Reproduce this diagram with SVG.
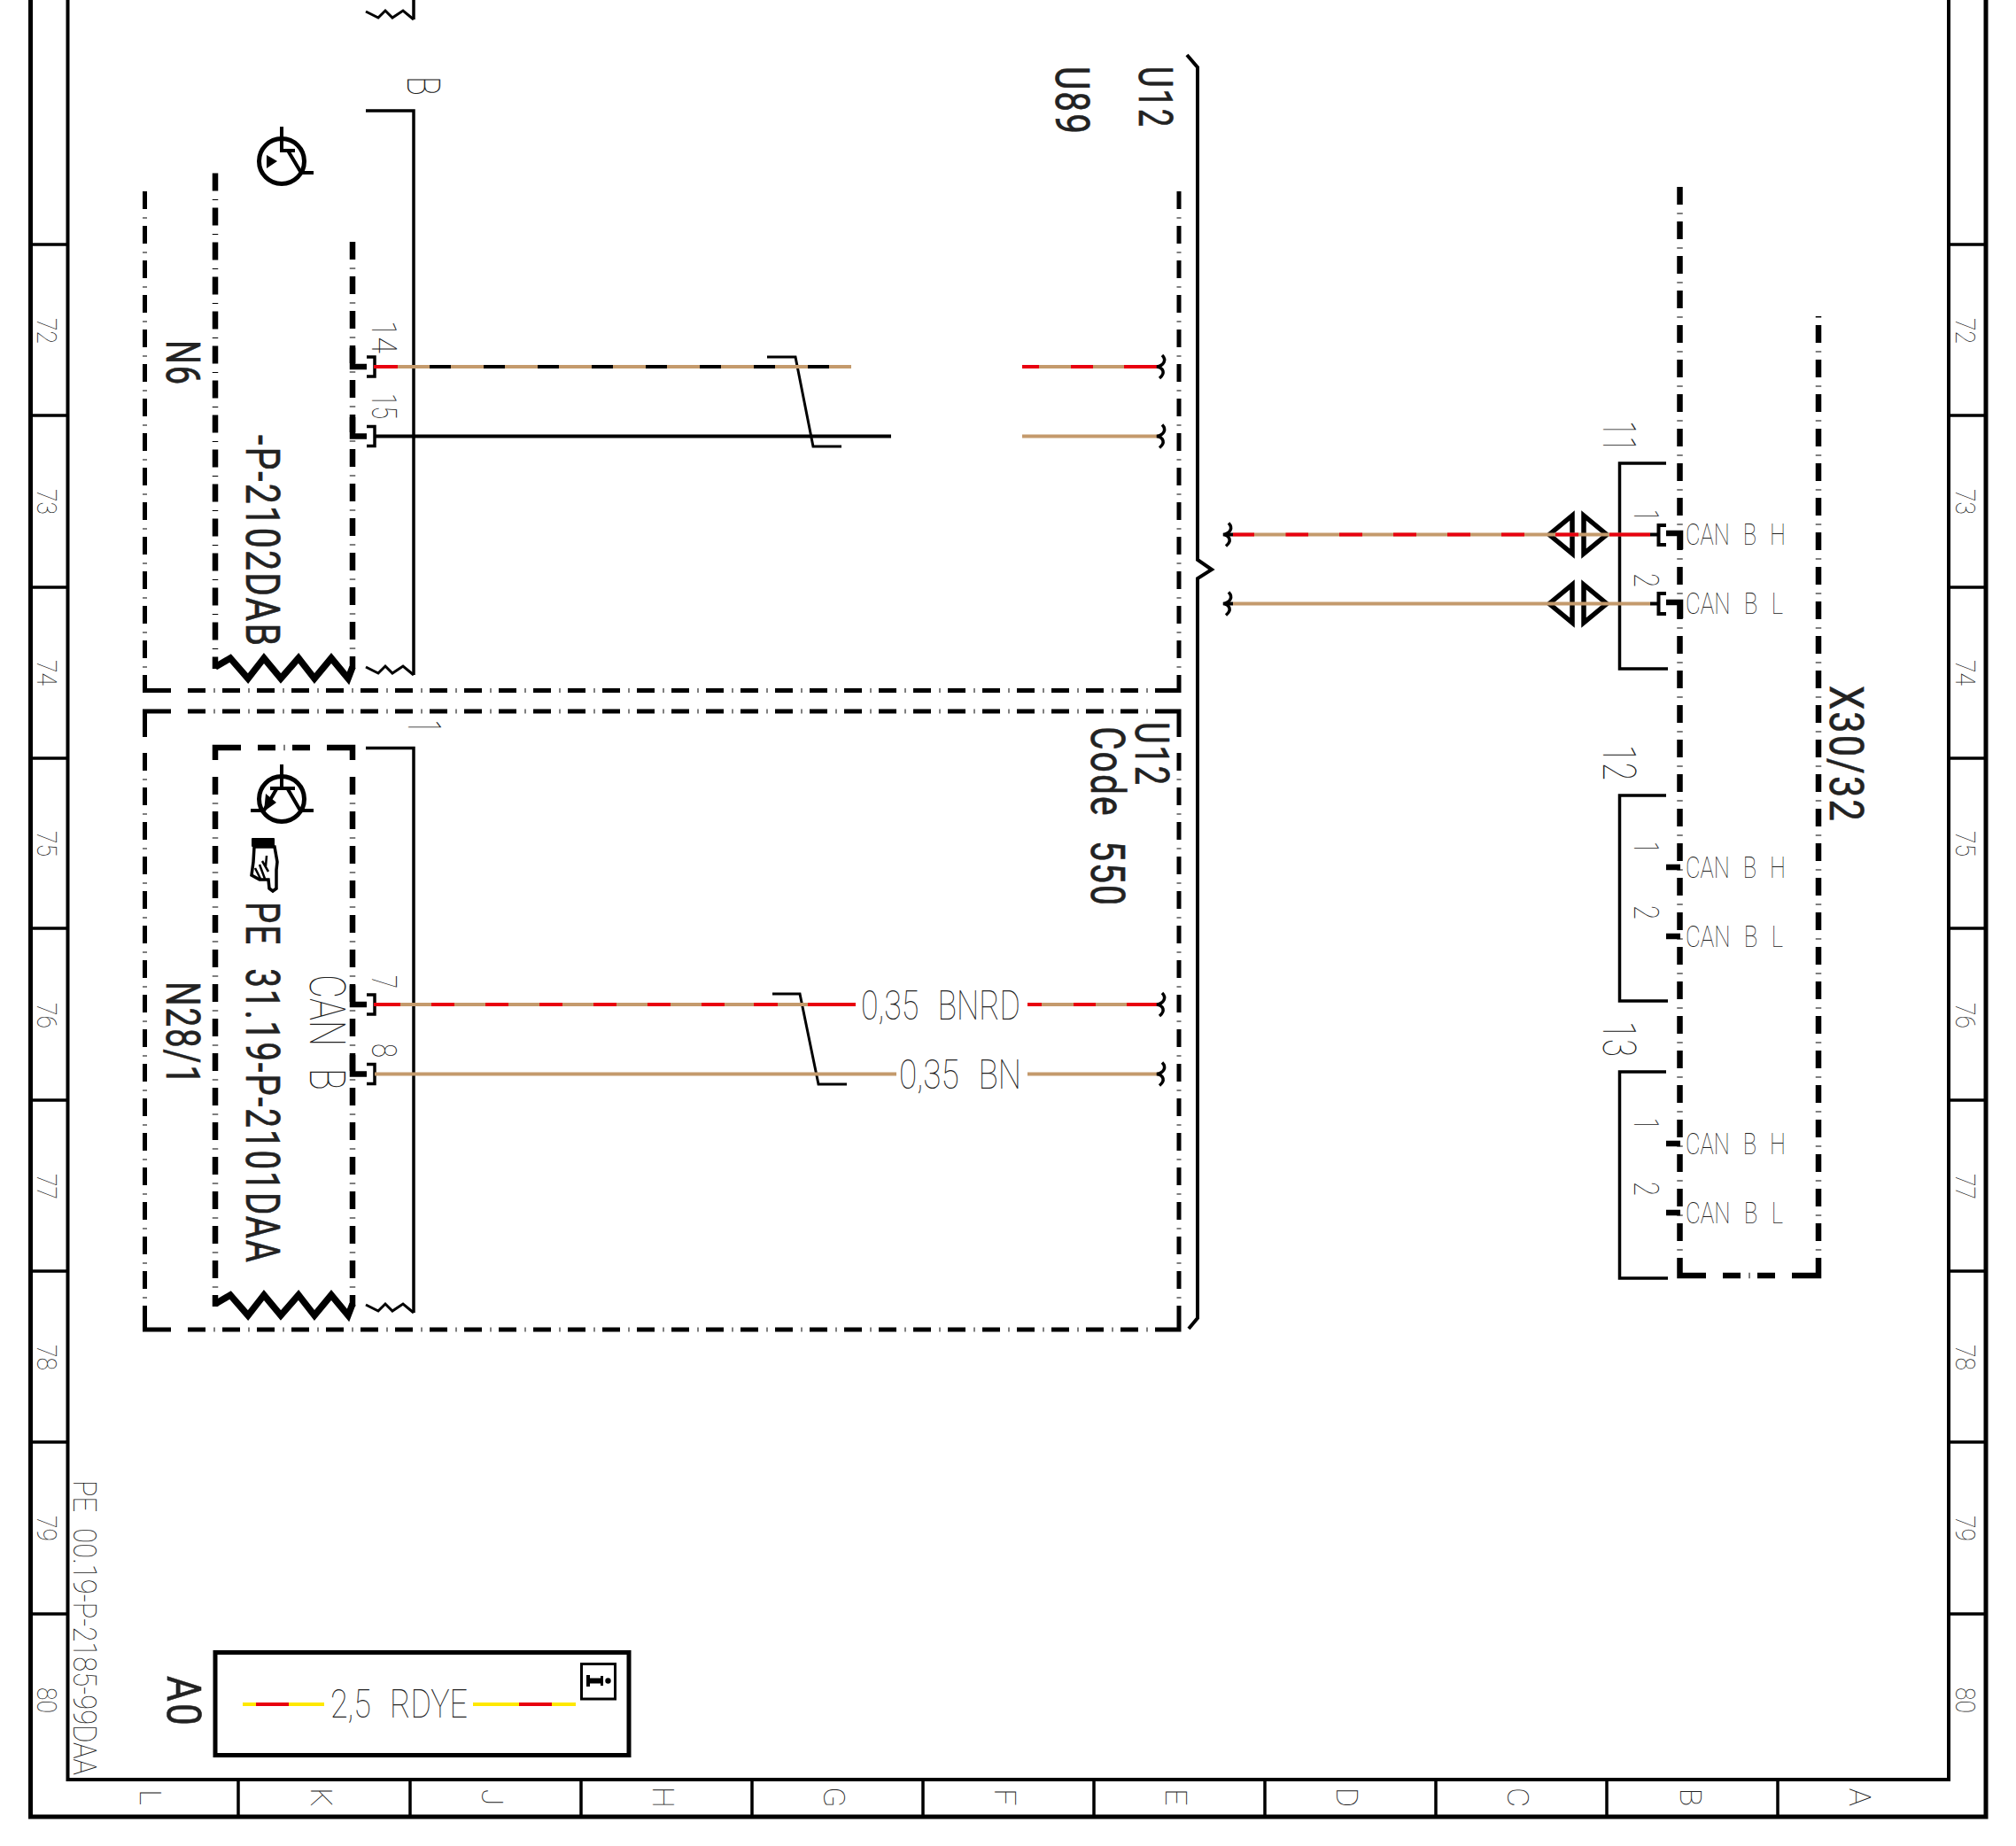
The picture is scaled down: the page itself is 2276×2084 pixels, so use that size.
<svg xmlns="http://www.w3.org/2000/svg" width="2276" height="2084" viewBox="0 0 2276 2084">
<style>
text{font-family:Roboto,"Liberation Sans",sans-serif;word-spacing:.35em}
.t{font-weight:100;fill:#222}
.b{font-weight:400;fill:#222;stroke:#222;stroke-width:.6;letter-spacing:.05em}
.ln{fill:none;stroke:#000;stroke-linejoin:miter}
.f{stroke-width:5}.f2{stroke-width:4}.l{stroke-width:3.5}.m{stroke-width:3}
.d5{fill:none;stroke:#000;stroke-width:5;stroke-dasharray:20 9.5 1 8.5}
.d6{fill:none;stroke:#000;stroke-width:6.5;stroke-dasharray:20 9.5 1 8.5}
.c5{fill:none;stroke:#000;stroke-width:5}
.c6{fill:none;stroke:#000;stroke-width:6.5}
.w{fill:none;stroke-width:4}
.tan{stroke:#c49a6c}.red{stroke:#e8000f}.blk{stroke:#000}.yel{stroke:#ffe800}
</style>
<defs>
<path id="sq" d="M6-13Q10-9 8-5Q6-1 0 0Q6 1 7 5Q8 9 3 13" fill="none" stroke="#000" stroke-width="3.5"/>
<path id="zz" d="M243 753L260 743L280 766L298 743L317 766L337 743L355 766L374 743L393 766L398 753" fill="none" stroke="#000" stroke-width="7.5"/>
<path id="zs" d="M413 753L427 760L435 752L443 760L455 752L467 762" fill="none" stroke="#000" stroke-width="3"/>
<g id="pl">
<path d="M398-21.5V0H414" fill="none" stroke="#000" stroke-width="6.5"/>
<path d="M414-11H423V11H414" fill="none" stroke="#000" stroke-width="3.5"/>
</g>
</defs>
<rect width="2276" height="2084" fill="#fff"/>

<g id="frame">
<path class="ln f" d="M34.5 0V2051H2242V0"/>
<path class="ln f2" d="M76.5 0V2009H2200V0"/>
<path class="ln l" d="M34.5 276H76.5M34.5 469H76.5M34.5 663H76.5M34.5 856H76.5M34.5 1048H76.5M34.5 1242H76.5M34.5 1435H76.5M34.5 1628H76.5M34.5 1822H76.5"/>
<path class="ln l" d="M2200 276H2242M2200 469H2242M2200 663H2242M2200 856H2242M2200 1048H2242M2200 1242H2242M2200 1435H2242M2200 1628H2242M2200 1822H2242"/>
<path class="ln l" d="M269 2009V2051M463 2009V2051M656 2009V2051M849 2009V2051M1042 2009V2051M1235 2009V2051M1428 2009V2051M1621 2009V2051M1814 2009V2051M2007 2009V2051"/>
<g class="t" font-size="32">
<text transform="translate(41.5 359) rotate(90)" textLength="29" lengthAdjust="spacingAndGlyphs">72</text>
<text transform="translate(41.5 552) rotate(90)" textLength="29" lengthAdjust="spacingAndGlyphs">73</text>
<text transform="translate(41.5 745) rotate(90)" textLength="29" lengthAdjust="spacingAndGlyphs">74</text>
<text transform="translate(41.5 938) rotate(90)" textLength="29" lengthAdjust="spacingAndGlyphs">75</text>
<text transform="translate(41.5 1132) rotate(90)" textLength="29" lengthAdjust="spacingAndGlyphs">76</text>
<text transform="translate(41.5 1325) rotate(90)" textLength="29" lengthAdjust="spacingAndGlyphs">77</text>
<text transform="translate(41.5 1518) rotate(90)" textLength="29" lengthAdjust="spacingAndGlyphs">78</text>
<text transform="translate(41.5 1711) rotate(90)" textLength="29" lengthAdjust="spacingAndGlyphs">79</text>
<text transform="translate(41.5 1905) rotate(90)" textLength="29" lengthAdjust="spacingAndGlyphs">80</text>
<text transform="translate(2208 359) rotate(90)" textLength="29" lengthAdjust="spacingAndGlyphs">72</text>
<text transform="translate(2208 552) rotate(90)" textLength="29" lengthAdjust="spacingAndGlyphs">73</text>
<text transform="translate(2208 745) rotate(90)" textLength="29" lengthAdjust="spacingAndGlyphs">74</text>
<text transform="translate(2208 938) rotate(90)" textLength="29" lengthAdjust="spacingAndGlyphs">75</text>
<text transform="translate(2208 1132) rotate(90)" textLength="29" lengthAdjust="spacingAndGlyphs">76</text>
<text transform="translate(2208 1325) rotate(90)" textLength="29" lengthAdjust="spacingAndGlyphs">77</text>
<text transform="translate(2208 1518) rotate(90)" textLength="29" lengthAdjust="spacingAndGlyphs">78</text>
<text transform="translate(2208 1711) rotate(90)" textLength="29" lengthAdjust="spacingAndGlyphs">79</text>
<text transform="translate(2208 1905) rotate(90)" textLength="29" lengthAdjust="spacingAndGlyphs">80</text>
</g>
<g class="t" font-size="34" text-anchor="middle">
<text transform="translate(158 2029) rotate(90)">L</text>
<text transform="translate(351 2029) rotate(90)">K</text>
<text transform="translate(544 2029) rotate(90)">J</text>
<text transform="translate(737 2029) rotate(90)">H</text>
<text transform="translate(930 2029) rotate(90)">G</text>
<text transform="translate(1123 2029) rotate(90)">F</text>
<text transform="translate(1316 2029) rotate(90)">E</text>
<text transform="translate(1509 2029) rotate(90)">D</text>
<text transform="translate(1702 2029) rotate(90)">C</text>
<text transform="translate(1897 2029) rotate(90)">B</text>
<text transform="translate(2088 2029) rotate(90)">A</text>
</g>
<text class="t" font-size="36" transform="translate(83 1671) rotate(90)" textLength="333" lengthAdjust="spacingAndGlyphs">PE 00.19-P-2185-99DAA</text>
</g>

<g id="U12-brace">
<path class="ln f2" d="M1340 62L1352 76V632L1368 643L1352 653V1488L1342 1500"/>
<text class="b" font-size="53" transform="translate(1286 75) rotate(90)" textLength="70" lengthAdjust="spacingAndGlyphs">U12</text>
<text class="b" font-size="53" transform="translate(1192 75) rotate(90)" textLength="78" lengthAdjust="spacingAndGlyphs">U89</text>
</g>

<g id="N6">
<path class="d5" d="M163.5 216V761M212 779.5H1312M1331 216V762"/>
<path class="c5" d="M163.5 762V779.5H193M1312 779.5H1331V762"/>
<path class="d6" d="M243 195.5V742M398 273V742"/>
<path class="c6" d="M243 742V755M398 742V755"/>
<use href="#zz"/>
<path class="ln l" d="M413 125H467V762M467 0V22"/>
<use href="#zs"/>
<use href="#zs" y="-740"/>
<path class="ln f2" d="M318 143V170H333M325 170L340 195H354"/>
<circle cx="318" cy="182" r="25.5" class="ln f"/>
<path d="M301 175L313 182L301 190Z"/>
<use href="#pl" y="414"/>
<use href="#pl" y="492.5"/>
<text class="b" font-size="53" transform="translate(188 384) rotate(90)" textLength="52" lengthAdjust="spacingAndGlyphs">N6</text>
<text class="b" font-size="53" transform="translate(278 491) rotate(90)" textLength="240" lengthAdjust="spacingAndGlyphs">-P-2102DAB</text>
<text class="t" font-size="51" transform="translate(460 86) rotate(90)" textLength="22" lengthAdjust="spacingAndGlyphs">B</text>
<text class="t" font-size="39" transform="translate(420 362) rotate(90)" textLength="37" lengthAdjust="spacingAndGlyphs">14</text>
<text class="t" font-size="39" transform="translate(420 444) rotate(90)" textLength="29" lengthAdjust="spacingAndGlyphs">15</text>
</g>

<g id="N28-1">
<path class="d5" d="M163.5 850V1475M212 803H1312M212 1501H1312M1331 850V1475"/>
<path class="c5" d="M163.5 832V803H193M1312 803H1331V832M163.5 1475V1501H193M1312 1501H1331V1475"/>
<path class="d6" d="M243 877V1462M398 877V1462M291 844H352"/>
<path class="c6" d="M243 858V844H272M369 844H398V858M243 1462V1475M398 1462V1475"/>
<use href="#zz" y="719"/>
<path class="ln l" d="M413 844.5H467V1482"/>
<use href="#zs" y="720"/>
<path class="ln f2" d="M318 863V890M305 890H333M325 891L339 915H354M312 891L298 915H283"/>
<circle cx="318" cy="902" r="25.5" class="ln f"/>
<path d="M298 916L300 896L312 906Z"/>
<g id="hand">
<rect x="284" y="946" width="26" height="10" rx="1"/>
<path d="M287 956H310L313 973L312 982L312 1003L308 1006L304 1003L303 993L293 993L284 988L286 973Z" fill="#fff" stroke="#000" stroke-width="3.5"/>
<path d="M288 980L294 992M293 976L299 992M296 972L303 984M301 966L300 978" fill="none" stroke="#000" stroke-width="2.5"/>
</g>
<use href="#pl" y="1134"/>
<use href="#pl" y="1212.5"/>
<text class="b" font-size="53" transform="translate(188 1108) rotate(90)" textLength="118" lengthAdjust="spacingAndGlyphs">N28/1</text>
<text class="b" font-size="53" transform="translate(278 1018) rotate(90)" textLength="409" lengthAdjust="spacingAndGlyphs">PE 31.19-P-2101DAA</text>
<text class="t" font-size="55" transform="translate(350 1100) rotate(90)" textLength="131" lengthAdjust="spacingAndGlyphs">CAN B</text>
<text class="t" font-size="51" transform="translate(461 813) rotate(90)" textLength="14" lengthAdjust="spacingAndGlyphs">1</text>
<text class="t" font-size="39" transform="translate(420 1101) rotate(90)" textLength="15" lengthAdjust="spacingAndGlyphs">7</text>
<text class="t" font-size="39" transform="translate(420 1178) rotate(90)" textLength="16" lengthAdjust="spacingAndGlyphs">8</text>
<text class="b" font-size="53" transform="translate(1282 815) rotate(90)" textLength="73" lengthAdjust="spacingAndGlyphs">U12</text>
<text class="b" font-size="53" transform="translate(1232 820) rotate(90)" textLength="204" lengthAdjust="spacingAndGlyphs">Code 550</text>
</g>

<g id="X30-32">
<path class="d6" d="M1896.5 211V1420M2053 367V1420M1945 1440H2005"/>
<path class="c6" d="M1896.5 1420V1440H1926M2023 1440H2053V1420"/>
<path class="c6" d="M2053 357V358.5"/>
<path class="ln l" d="M1881 523H1828.5V755H1883M1881 898H1828.5V1130H1883M1881 1210H1828.5V1443H1883"/>
<path class="ln c6" d="M1881 979H1897M1881 1057H1897M1881 1291H1897M1881 1369H1897M1881 602H1897V620M1881 680H1897V698"/>
<path class="ln f2" d="M1881 593H1872.5V615H1881M1881 670H1872.5V693H1881"/>
<g class="t" font-size="34">
<text x="1903" y="615" textLength="113" lengthAdjust="spacingAndGlyphs">CAN B H</text>
<text x="1903" y="693" textLength="110" lengthAdjust="spacingAndGlyphs">CAN B L</text>
<text x="1903" y="991" textLength="113" lengthAdjust="spacingAndGlyphs">CAN B H</text>
<text x="1903" y="1069" textLength="110" lengthAdjust="spacingAndGlyphs">CAN B L</text>
<text x="1903" y="1303" textLength="113" lengthAdjust="spacingAndGlyphs">CAN B H</text>
<text x="1903" y="1381" textLength="110" lengthAdjust="spacingAndGlyphs">CAN B L</text>
</g>
<g class="t" font-size="39">
<text transform="translate(1845 575) rotate(90)" textLength="13" lengthAdjust="spacingAndGlyphs">1</text>
<text transform="translate(1845 647) rotate(90)" textLength="16" lengthAdjust="spacingAndGlyphs">2</text>
<text transform="translate(1845 950) rotate(90)" textLength="13" lengthAdjust="spacingAndGlyphs">1</text>
<text transform="translate(1845 1022) rotate(90)" textLength="16" lengthAdjust="spacingAndGlyphs">2</text>
<text transform="translate(1845 1262) rotate(90)" textLength="13" lengthAdjust="spacingAndGlyphs">1</text>
<text transform="translate(1845 1334) rotate(90)" textLength="16" lengthAdjust="spacingAndGlyphs">2</text>
</g>
<g class="t" font-size="51">
<text transform="translate(1810 475) rotate(90)" textLength="35" lengthAdjust="spacingAndGlyphs">11</text>
<text transform="translate(1810 841) rotate(90)" textLength="40" lengthAdjust="spacingAndGlyphs">12</text>
<text transform="translate(1810 1153) rotate(90)" textLength="40" lengthAdjust="spacingAndGlyphs">13</text>
</g>
<text class="b" font-size="53" transform="translate(2066 774) rotate(90)" textLength="155" lengthAdjust="spacingAndGlyphs">X30/32</text>
</g>

<g id="connectors">
<path class="ln" stroke-width="5.5" d="M1749 603.5L1775 582V625ZM1814 603.5L1788 582V625ZM1749 681.5L1775 660V703ZM1814 681.5L1788 660V703Z"/>
<path class="ln m" d="M866 403H898L918 504H950M872 1122H903L924 1224H956"/>
<g class="w">
<path class="tan" d="M449 414H961M1154 414H1311"/>
<path class="red" d="M422 414H449M1154 414H1173M1209 414H1234M1269 414H1311"/>
<path class="blk" d="M485 414H961" stroke-dasharray="24 37"/>
<path class="blk" d="M423 492.5H1006"/>
<path class="tan" d="M1154 492.5H1311"/>
<path class="tan" d="M422 1134H966M1160 1134H1311"/>
<path class="red" d="M422 1134H452M487 1134H878"/>
<path class="tan" d="M513 1134H548M574 1134H609M635 1134H670M696 1134H731M757 1134H792M818 1134H851"/>
<path class="red" d="M912 1134H966M1160 1134H1176M1212 1134H1237M1272 1134H1311"/>
<path class="tan" d="M423 1212.5H1012M1160 1212.5H1311"/>
<path class="tan" d="M1392 603.5H1863M1392 681.5H1863"/>
<path class="red" d="M1392 603.5H1416M1451.5 603.5H1477M1512 603.5H1538M1573 603.5H1599M1634 603.5H1660M1695 603.5H1721M1756 603.5H1782M1817 603.5H1863"/>
<path class="blk" d="M1863 603.5H1873M1863 681.5H1873M1383 603.5H1392M1383 681.5H1392"/>
</g>
<use href="#sq" x="1306" y="414"/>
<use href="#sq" x="1306" y="492.5"/>
<use href="#sq" x="1306" y="1134"/>
<use href="#sq" x="1306" y="1212.5"/>
<use href="#sq" x="1381" y="603.5"/>
<use href="#sq" x="1381" y="681.5"/>
<text class="t" font-size="47" x="972" y="1151" textLength="180" lengthAdjust="spacingAndGlyphs">0,35 BNRD</text>
<text class="t" font-size="47" x="1015" y="1229" textLength="138" lengthAdjust="spacingAndGlyphs">0,35 BN</text>
</g>

<g id="A0">
<rect x="243" y="1865.5" width="467" height="116" class="ln f"/>
<path class="w yel" d="M274 1924H366M534 1924H650"/>
<path class="w red" d="M289 1924H326M586 1924H623"/>
<text class="t" font-size="45" x="373" y="1939" textLength="155" lengthAdjust="spacingAndGlyphs">2,5 RDYE</text>
<rect x="656.5" y="1878.5" width="38" height="39.5" class="ln m"/>
<path d="M662 1891H666V1894.5H678V1892H681V1903H678V1900.5H666V1904H662Z"/>
<circle cx="686.5" cy="1897.5" r="3.2"/>
<text class="b" font-size="53" transform="translate(189 1892) rotate(90)" textLength="58" lengthAdjust="spacingAndGlyphs">A0</text>
</g>
</svg>
